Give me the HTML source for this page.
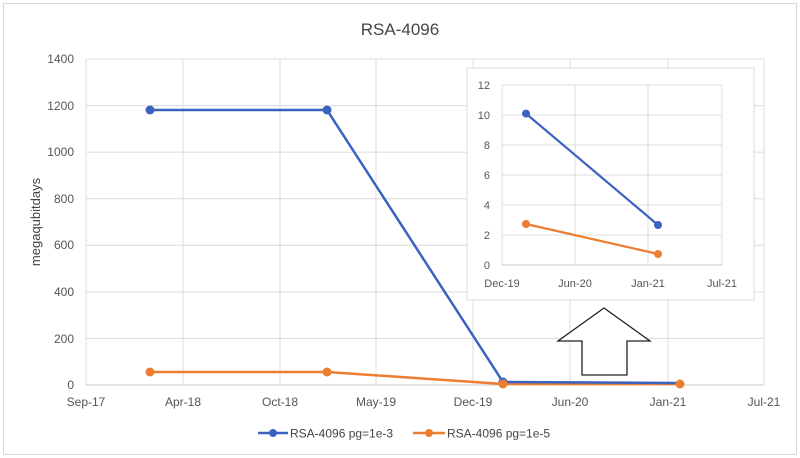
<!DOCTYPE html>
<html><head><meta charset="utf-8"><style>body{margin:0;background:#fff}svg{display:block}text{font-family:"Liberation Sans",sans-serif}</style></head><body>
<svg width="800" height="458" viewBox="0 0 800 458" xmlns="http://www.w3.org/2000/svg">
<rect x="0" y="0" width="800" height="458" fill="#fff"/>
<rect x="3.5" y="3.5" width="793" height="451" fill="none" stroke="#d9d9d9"/>
<text x="400" y="35" text-anchor="middle" font-size="17" fill="#444">RSA-4096</text>
<g stroke="#dcdcdc" stroke-width="1">
<line x1="86" y1="59" x2="764" y2="59"/><line x1="86" y1="105.6" x2="764" y2="105.6"/><line x1="86" y1="152.1" x2="764" y2="152.1"/><line x1="86" y1="198.7" x2="764" y2="198.7"/><line x1="86" y1="245.3" x2="764" y2="245.3"/><line x1="86" y1="291.9" x2="764" y2="291.9"/><line x1="86" y1="338.4" x2="764" y2="338.4"/>
<line x1="183" y1="59" x2="183" y2="385"/><line x1="280" y1="59" x2="280" y2="385"/><line x1="376" y1="59" x2="376" y2="385"/><line x1="473" y1="59" x2="473" y2="385"/><line x1="570" y1="59" x2="570" y2="385"/><line x1="668" y1="59" x2="668" y2="385"/><line x1="764" y1="59" x2="764" y2="385"/><line x1="86" y1="59" x2="86" y2="385"/>
</g>
<line x1="86" y1="385" x2="764" y2="385" stroke="#c8c8c8"/>
<g font-size="12" fill="#555" text-anchor="end">
<text x="74" y="63">1400</text><text x="74" y="110">1200</text><text x="74" y="156">1000</text><text x="74" y="203">800</text><text x="74" y="249">600</text><text x="74" y="296">400</text><text x="74" y="343">200</text><text x="74" y="389">0</text>
</g>
<g font-size="12" fill="#555" text-anchor="middle">
<text x="86" y="406">Sep-17</text><text x="183" y="406">Apr-18</text><text x="280" y="406">Oct-18</text><text x="376" y="406">May-19</text><text x="473" y="406">Dec-19</text><text x="570" y="406">Jun-20</text><text x="668" y="406">Jan-21</text><text x="764" y="406">Jul-21</text>
</g>
<text transform="translate(40,222) rotate(-90)" text-anchor="middle" font-size="13" fill="#444">megaqubitdays</text>
<polyline points="150,372 327,372 503,384 680,384" fill="none" stroke="#ed7d31" stroke-width="2.5"/>
<polyline points="150,110 327,110 503,382 680,383" fill="none" stroke="#3a62c0" stroke-width="2.5"/>
<g fill="#3a62c0"><circle cx="150" cy="110" r="4.5"/><circle cx="327" cy="110" r="4.5"/><circle cx="503" cy="382" r="4.5"/></g>
<g fill="#ed7d31"><circle cx="150" cy="372" r="4.5"/><circle cx="327" cy="372" r="4.5"/><circle cx="503" cy="384" r="4.5"/><circle cx="680" cy="384" r="4.5"/></g>
<rect x="467" y="68" width="287" height="232" fill="#fff" stroke="#dcdcdc"/>
<g stroke="#dcdcdc">
<line x1="502" y1="85" x2="722" y2="85"/><line x1="502" y1="115" x2="722" y2="115"/><line x1="502" y1="145" x2="722" y2="145"/><line x1="502" y1="175" x2="722" y2="175"/><line x1="502" y1="205" x2="722" y2="205"/><line x1="502" y1="235" x2="722" y2="235"/>
<line x1="502" y1="85" x2="502" y2="265"/><line x1="575" y1="85" x2="575" y2="265"/><line x1="648" y1="85" x2="648" y2="265"/><line x1="722" y1="85" x2="722" y2="265"/>
</g>
<line x1="502" y1="265" x2="722" y2="265" stroke="#c8c8c8"/>
<g font-size="11" fill="#555" text-anchor="end">
<text x="490" y="89">12</text><text x="490" y="119">10</text><text x="490" y="149">8</text><text x="490" y="179">6</text><text x="490" y="209">4</text><text x="490" y="239">2</text><text x="490" y="269">0</text>
</g>
<g font-size="11" fill="#555" text-anchor="middle">
<text x="502" y="287">Dec-19</text><text x="575" y="287">Jun-20</text><text x="648" y="287">Jan-21</text><text x="722" y="287">Jul-21</text>
</g>
<polyline points="526,113.6 658,225" fill="none" stroke="#3a62c0" stroke-width="2.2"/>
<polyline points="526,224 658,254" fill="none" stroke="#ed7d31" stroke-width="2.2"/>
<circle cx="526" cy="113.6" r="4" fill="#3a62c0"/><circle cx="658" cy="225" r="4" fill="#3a62c0"/>
<circle cx="526" cy="224" r="4" fill="#ed7d31"/><circle cx="658" cy="254" r="4" fill="#ed7d31"/>
<polygon points="604,308 650,341 627,341 627,375 582,375 582,341 558,341" fill="#fff" stroke="#222" stroke-width="1.3"/>
<line x1="258" y1="433" x2="288" y2="433" stroke="#3a62c0" stroke-width="2.5"/><circle cx="273" cy="433" r="4" fill="#3a62c0"/>
<text x="290" y="437.5" font-size="12" fill="#444">RSA-4096 pg=1e-3</text>
<line x1="413" y1="433" x2="445" y2="433" stroke="#ed7d31" stroke-width="2.5"/><circle cx="429" cy="433" r="4" fill="#ed7d31"/>
<text x="447" y="437.5" font-size="12" fill="#444">RSA-4096 pg=1e-5</text>
</svg>
</body></html>
